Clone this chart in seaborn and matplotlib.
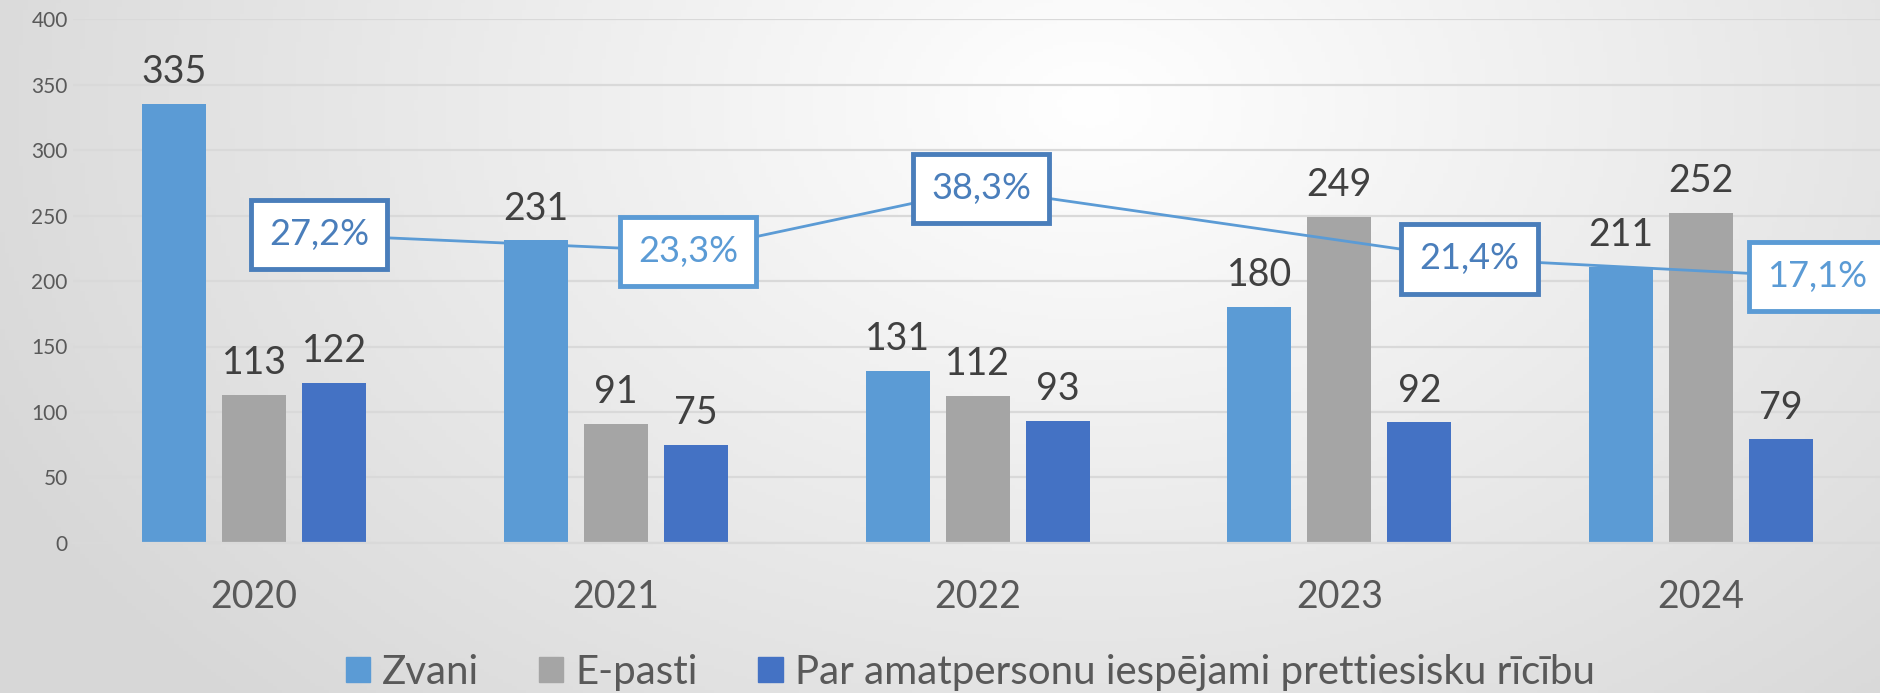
import numpy as np
import pandas as pd
import seaborn as sns
import matplotlib.pyplot as plt

# dati
gadi = ["2020", "2021", "2022", "2023", "2024"]
zvani = [335, 231, 131, 180, 211]
e_pasti = [113, 91, 112, 249, 252]
par_amatpersonu = [122, 75, 93, 92, 79]
procenti = [27.2, 23.3, 38.3, 21.4, 17.1]
kategorijas = ["Zvani", "E-pasti", "Par amatpersonu iespējami prettiesisku rīcību"]

krasas = ["#5B9BD5", "#A5A5A5", "#4472C4"]
teksts = "#404040"
ass_teksts = "#595959"

df = pd.DataFrame({
    "gads": gadi * 3,
    "skaits": zvani + e_pasti + par_amatpersonu,
    "kategorija": [k for k in kategorijas for _ in gadi],
})

sns.set_theme(style="white")
plt.rcParams["font.family"] = ["Lato", "DejaVu Sans"]

fig = plt.figure(figsize=(18.8, 6.93), dpi=100)

# fons ar gradientu
bg = fig.add_axes([0, 0, 1, 1], zorder=-5)
xx, yy = np.meshgrid(np.linspace(0, 1, 400), np.linspace(0, 1, 200))
r = np.sqrt(((xx - 0.58) / 0.5) ** 2 + ((yy - 0.15) / 0.95) ** 2)
val = 1 - 0.12 * np.clip(r, 0, 1.3)
bg.imshow(np.dstack([val, val, val]), aspect="auto", extent=[0, 1, 0, 1])
bg.axis("off")

ax = fig.add_axes([0.039, 0.2165, 0.962, 0.756])
ax.set_facecolor("none")
sns.barplot(data=df, x="gads", y="skaits", hue="kategorija", palette=krasas,
            width=0.664, gap=0.2, ax=ax, legend=False, saturation=1, linewidth=0)

for c in ax.containers:
    ax.bar_label(c, padding=10, fontsize=27, color=teksts)

ax.set_ylim(0, 400)
ax.set_xlim(-0.5, 4.5)
ax.set_yticks(range(0, 401, 50))
ax.yaxis.grid(True, color="#d9d9d9", lw=1.6)
ax.set_axisbelow(True)
for s in ["top", "right", "left"]:
    ax.spines[s].set_visible(False)
ax.spines["bottom"].set_color("#d9d9d9")
ax.spines["bottom"].set_linewidth(1.6)
ax.tick_params(axis="y", length=0, labelsize=15, labelcolor=ass_teksts, pad=4)
ax.tick_params(axis="x", length=0, labelsize=27, labelcolor=ass_teksts, pad=26)
ax.set_xlabel("")
ax.set_ylabel("")

# procentu līnija ar rāmjiem
ax2 = ax.twinx()
ax2.set_ylim(-46.9, 79.1)
ax2.axis("off")
box_dx = [0.18, 0.2, 0.01, 0.36, 0.32]
line_x = np.arange(len(gadi)) + np.array(box_dx)
sns.lineplot(x=line_x, y=procenti, ax=ax2, color="#5B9BD5", lw=2)
ramji = ["#4A7EBB", "#5B9BD5", "#4A7EBB", "#4A7EBB", "#5B9BD5"]
for x, p, rc in zip(line_x, procenti, ramji):
    ax2.text(x, p, f"{p:.1f}%".replace(".", ","), ha="center", va="center",
             fontsize=26, color=rc, zorder=5, clip_on=False,
             bbox=dict(boxstyle="square,pad=0.5", fc="white", ec=rc, lw=3.5))

handles = [plt.Rectangle((0, 0), 1, 1, color=c) for c in krasas]
fig.legend(handles, kategorijas, loc="center", bbox_to_anchor=(0.516, 0.03),
           ncol=3, frameon=False, fontsize=29, labelcolor=ass_teksts,
           handlelength=0.6, handleheight=0.6, handletextpad=0.3,
           columnspacing=1.5)

fig.savefig("out.png", dpi=100)
